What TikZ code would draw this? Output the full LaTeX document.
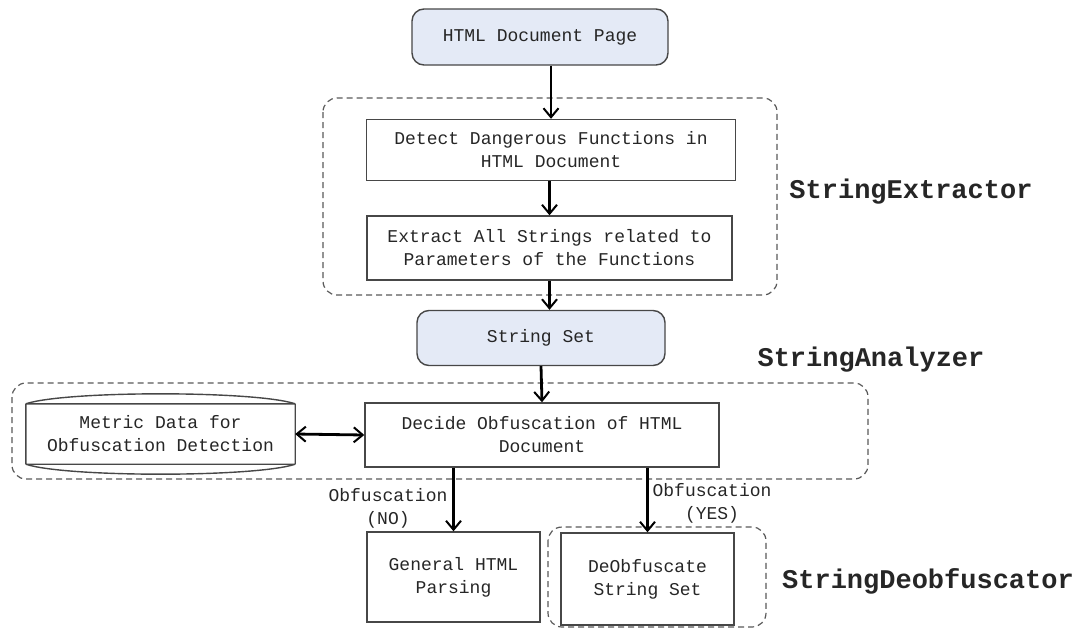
\documentclass[tikz,border=0pt]{standalone}
\usepackage{fontspec}
\setmainfont{Liberation Mono}
\usetikzlibrary{arrows.meta,calc}
\definecolor{pale}{HTML}{E4EAF6}
\definecolor{ink}{HTML}{262626}
\tikzset{
  boxfont/.style={font=\fontsize{18}{23}\selectfont, text=ink, align=center, inner sep=0pt},
  procbox/.style={boxfont, draw=ink!85, line width=1.4pt},
  termbox/.style={procbox, fill=pale, rounded corners=12pt},
  frame/.style={draw=black!65, dashed, dash pattern=on 6pt off 4pt, line width=1.2pt, rounded corners=14pt},
  grouplabel/.style={font=\bfseries\fontsize{27}{30}\selectfont, text=ink, inner sep=0pt},
  edgelabel/.style={boxfont},
  mytip/.tip={Straight Barb[length=9pt,width=15pt,line width=2pt]},
  arr/.style={draw=black, line width=2.8pt, -mytip},
  darr/.style={draw=black, line width=2.8pt, mytip-mytip}
}
\begin{document}
\begin{tikzpicture}[x=1pt,y=-1pt]
\useasboundingbox (0,0) rectangle (1078,629);
% frames
\draw[frame] (323,98) rectangle (777,295);
\draw[frame] (12,383) rectangle (868,479);
\draw[frame] (548,527) rectangle (766,627);
% nodes
\node[termbox, minimum width=256pt, minimum height=56pt] (page) at (540,37) {HTML Document Page};
\node[procbox, minimum width=369pt, minimum height=61pt] (detect) at (551,150) {Detect Dangerous Functions in\\HTML Document};
\node[procbox, minimum width=365pt, minimum height=64pt] (extract) at (549.5,248) {Extract All Strings related to\\Parameters of the Functions};
\node[termbox, minimum width=248pt, minimum height=55pt] (strset) at (541,338) {String Set};
\node[procbox, minimum width=354pt, minimum height=64pt] (decide) at (542,435) {Decide Obfuscation of HTML\\Document};
\node[boxfont, minimum width=269pt, minimum height=80pt] (metric) at (160.5,434) {Metric Data for\\Obfuscation Detection};
\node[procbox, minimum width=173pt, minimum height=90pt] (general) at (453.5,577) {General HTML\\Parsing};
\node[procbox, minimum width=173pt, minimum height=92pt] (deob) at (647.5,579) {DeObfuscate\\String Set};
% metric data store outline
\draw[draw=ink!85, line width=1.4pt]
  ($(metric.north west)+(0,10)$) -- ($(metric.south west)+(0,-10)$)
  ($(metric.north east)+(0,10)$) -- ($(metric.south east)+(0,-10)$)
  ($(metric.north west)+(0,10)$) -- ($(metric.north east)+(0,10)$)
  ($(metric.south west)+(0,-10)$) -- ($(metric.south east)+(0,-10)$)
  ($(metric.north west)+(0,10)$) .. controls ($(metric.north west)+(40,-3.3)$) and ($(metric.north east)+(-40,-3.3)$) .. ($(metric.north east)+(0,10)$)
  ($(metric.south west)+(0,-10)$) .. controls ($(metric.south west)+(40,3.3)$) and ($(metric.south east)+(-40,3.3)$) .. ($(metric.south east)+(0,-10)$);
% group labels
\node[grouplabel] (lblext) at (911,192) {StringExtractor};
\node[grouplabel] (lblana) at (871,360) {StringAnalyzer};
\node[grouplabel] (lbldeo) at (928,581) {StringDeobfuscator};
% connectors
\draw[arr] (page.south -| detect.north) -- (detect.north);
\draw[arr] (detect.south -| extract.north) -- (extract.north);
\draw[arr] (extract.south) -- (extract.south |- strset.north);
\draw[arr] (strset.south) -- (decide.north);
\draw[darr] (metric.east) -- (decide.west);
\draw[arr] (decide.south -| general.north) -- (general.north);
\draw[arr] (decide.south -| deob.north) -- (deob.north);
% edge labels
\node[edgelabel] (lblno) at (388,508) {Obfuscation\\(NO)};
\node[edgelabel] (lblyes) at (712,503) {Obfuscation\\(YES)};
\end{tikzpicture}
\end{document}
